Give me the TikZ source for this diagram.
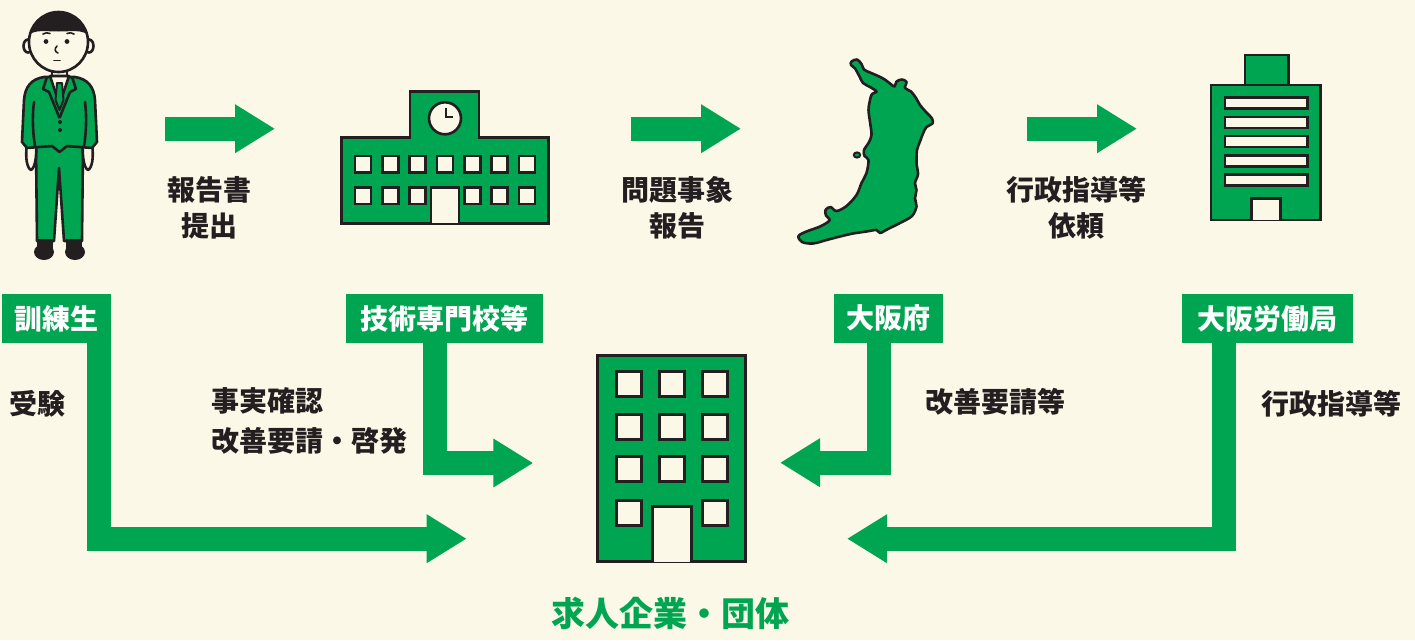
\documentclass[tikz,border=0pt]{standalone}
\usepackage{fontspec}
\newfontfamily\jp{Noto Sans CJK JP}
\usetikzlibrary{arrows.meta}
\definecolor{bg}{HTML}{FCF8E7}
\definecolor{grn}{HTML}{00A551}
\definecolor{ink}{HTML}{231F20}

\begin{document}
\begin{tikzpicture}[x=1pt,y=-1pt,
  flow/.style={draw=grn, line width=24pt, line join=miter,
    -{Triangle[length=40pt,width=46pt]}},
  outl/.style={draw=ink, line width=2.6pt, line join=miter},
  pane/.style={outl, fill=bg},
  body/.style={outl, fill=grn},
  tag/.style={fill=grn, text=white, inner sep=0pt, minimum height=48.7pt,
    font=\jp\bfseries\fontsize{28}{34}\selectfont},
  caption/.style={text=ink, inner sep=0pt,
    font=\jp\bfseries\fontsize{28}{36}\selectfont},
]
% canvas
\fill[bg] (0,0) rectangle (1415,640);
\useasboundingbox (0,0) rectangle (1415,640);

% ---------- trainee figure ----------
% trousers
\draw[body, line join=round] (36,146) -- (37,241) -- (54,241) -- (59,168)
  -- (64,241) -- (82,241) -- (83,146) -- cycle;
% shoes
\fill[ink] (37,239) rectangle (53,251);
\fill[ink] (44,252) ellipse (10 and 8);
\fill[ink] (66,239) rectangle (82,251);
\fill[ink] (75,252) ellipse (10 and 8);
% hands
\draw[pane, line join=round] (27,144) .. controls (25,158) and (27,168) .. (31,170)
  .. controls (35,168) and (37,156) .. (36,144) -- cycle;
\draw[pane, line join=round] (92,144) .. controls (94,158) and (92,168) .. (88,170)
  .. controls (84,168) and (82,156) .. (83,144) -- cycle;
% neck
\draw[pane] (52,64) rectangle (67,82);
% jacket
\draw[body, line join=round] (44,77) .. controls (31,79) and (25,87) .. (24,100)
  -- (22,142) -- (27,148) -- (52,146) -- (59.5,152) -- (67,146) -- (92,148)
  -- (97,142) -- (95,100) .. controls (94,87) and (88,79) .. (75,77) -- cycle;
% sleeves
\draw[outl, line cap=round] (34,102) .. controls (32,118) and (33,134) .. (35,146);
\draw[outl, line cap=round] (85,102) .. controls (87,118) and (86,134) .. (84,146);
% shirt and tie
\draw[pane, line join=round] (50,76) -- (57,97) -- (62,97) -- (69,76) -- cycle;
\draw[body, line width=2pt, line join=round] (57,83) -- (62,83) -- (63.5,100)
  -- (59.5,110) -- (55.5,100) -- cycle;
% lapels
\draw[outl, line join=round] (47,77) -- (43,89) -- (49,92) -- (59.5,118);
\draw[outl, line join=round] (72,77) -- (76,89) -- (70,92) -- (59.5,118);
% buttons
\fill[ink] (60,122) circle (2);
\fill[ink] (60,130) circle (2);
% ears
\draw[pane] (28,46) ellipse (4.5 and 6.5);
\draw[pane] (89,46) ellipse (4.5 and 6.5);
% face and hair
\fill[bg] (58.5,42) ellipse (29.5 and 30);
\begin{scope}
  \clip (58.5,42) ellipse (29.5 and 30);
  \fill[ink] (25,42) .. controls (29,28) and (42,31.5) .. (58.5,31.5)
    .. controls (75,31.5) and (88,28) .. (92,42) -- (92,8) -- (25,8) -- cycle;
\end{scope}
\draw[outl] (58.5,42) ellipse (29.5 and 30);
% features
\draw[ink, line width=1.6pt, line cap=round] (43,34) .. controls (45,32.5) and (48,32.5) .. (50,33.5);
\draw[ink, line width=1.6pt, line cap=round] (67,33.5) .. controls (69,32.5) and (72,32.5) .. (74,34);
\fill[ink] (46,41.5) circle (2.4);
\fill[ink] (67,41.5) circle (2.4);
\draw[ink, line width=1.6pt, line cap=round] (57,46) .. controls (54,49) and (55,52) .. (58,53);
\draw[ink, line width=1.6pt, line cap=round] (54,60.5) -- (60,60.5);

% ---------- school ----------
\draw[body] (341.7,223.3) -- (341.7,137.3) -- (410,137.3) -- (410,91.7)
  -- (479,91.7) -- (479,137.3) -- (548.3,137.3) -- (548.3,223.3) -- cycle;
\draw[pane] (445,118.3) circle (16);
\draw[ink, line width=2.4pt] (445.7,107.5) -- (445.7,117) -- (453,117);
\foreach \i in {0,...,6} {
  \draw[pane] (355+27.3*\i,156) rectangle ++(16,16.5);
}
\foreach \i in {0,1,2,4,5,6} {
  \draw[pane] (355+27.3*\i,187.5) rectangle ++(16,16.5);
}
\draw[pane] (431,223.3) -- (431,187.5) -- (459,187.5) -- (459,223.3);

% ---------- prefecture map ----------
\draw[body, line join=round] plot[smooth cycle, tension=0.55] coordinates {
  (851.5,61.5) (857,59.5) (861.5,64) (864,69.5) (870,72.5) (877,75.5)
  (884,79) (890,83.5) (894.5,86.5) (896.5,81.5) (902,79.5) (906.5,82)
  (905,88) (911,91.5) (916,98) (920,105) (926,112) (932,118.5)
  (932.5,123.5) (926.5,127) (923,133.5) (920,141.5) (917,150)
  (916.5,163) (918,174) (915,183) (916.5,190) (915,198.5) (916.5,206.5)
  (912,216) (901,222.5) (888,229) (880,233) (876.5,230) (866.5,231.5)
  (853,233.5) (840,236.5) (826.5,240) (813,243.5) (802,242) (798.5,236)
  (806.5,231.5) (820,226.5) (829.5,220.5) (826,215.5) (825.5,210)
  (830.5,207) (836.5,211) (846.5,206) (856.5,195) (861.5,183)
  (866.5,173) (868.5,160) (864.5,156) (864,150) (868.5,143) (871.5,135)
  (870,122) (868.5,110) (870,100) (872,94) (876.5,91.5) (870,87)
  (863,83) (859.5,76.5) (855,68.5) (851,65)
};
\draw[body, line width=2pt] (857,155) ellipse (3.2 and 2.6);

% ---------- labour bureau ----------
\draw[body] (1245,55) rectangle (1288.3,85);
\draw[body] (1211,85) rectangle (1320.7,220);
\foreach \y in {97.7,116.9,136.1,155.3,174.5} {
  \draw[pane] (1225,\y) rectangle (1307.3,\y+11);
}
\draw[pane] (1251.7,220) -- (1251.7,198.3) -- (1280.7,198.3) -- (1280.7,220);

% ---------- company building ----------
\draw[body, line width=3pt] (597.3,355) rectangle (745.7,561.7);
\foreach \x in {616,659.3,702.7} {
  \foreach \y in {371,414,456.7} {
    \draw[pane, line width=3pt] (\x,\y) rectangle ++(25,25);
  }
}
\draw[pane, line width=3pt] (616,500) rectangle ++(25,25);
\draw[pane, line width=3pt] (702.7,500) rectangle ++(25,25);
\draw[pane, line width=3pt] (652.7,561.7) -- (652.7,506.7) -- (691,506.7) -- (691,561.7);

% ---------- top flow ----------
\coordinate (s1) at (165,128.7);  \coordinate (e1) at (275,128.7);
\coordinate (s2) at (631,128.7);  \coordinate (e2) at (741,128.7);
\coordinate (s3) at (1027,128.7); \coordinate (e3) at (1137,128.7);
\draw[flow] (s1) -- (e1);
\draw[flow] (s2) -- (e2);
\draw[flow] (s3) -- (e3);

\node[caption, align=center] (c1) at (209,207.4) {報告書\\提出};
\node[caption, align=center] (c2) at (677,207.4) {問題事象\\報告};
\node[caption, align=center] (c3) at (1076,207.4) {行政指導等\\依頼};

% ---------- actors ----------
\node[tag, minimum width=109pt] (tr)   at (56.5,318.4)  {訓練生};
\node[tag, minimum width=197pt] (tech) at (444.5,318.4) {技術専門校等};
\node[tag, minimum width=109pt] (pref) at (888.5,318.4) {大阪府};
\node[tag, minimum width=171pt] (lab)  at (1267.5,318.4) {大阪労働局};

% ---------- flows to the employer ----------
\coordinate (t1) at (466.7,538.7);
\coordinate (t2) at (533.3,463);
\coordinate (t3) at (780,462.7);
\coordinate (t4) at (847,538.7);
\draw[flow] ([xshift=-12pt]tr.south east) |- (t1);
\draw[flow] ([xshift=-9.8pt]tech.south) |- (t2);
\draw[flow] ([xshift=-9.5pt]pref.south) |- (t3);
\draw[flow] ([xshift=42pt]lab.south west) |- (t4);

\node[caption, anchor=west] (c4) at (9,403.3) {受験};
\node[caption, anchor=west, align=left,
  font=\jp\bfseries\fontsize{28}{40}\selectfont] (c5) at (211,421.3)
  {事実確認\\改善要請・啓発};
\node[caption, anchor=west] (c6) at (925,401.7) {改善要請等};
\node[caption, anchor=west] (c7) at (1261,403.3) {行政指導等};

\node[text=grn, inner sep=0pt, font=\jp\bfseries\fontsize{34}{40}\selectfont]
  (emp) at (670,613.3) {求人企業・団体};
\end{tikzpicture}
\end{document}
